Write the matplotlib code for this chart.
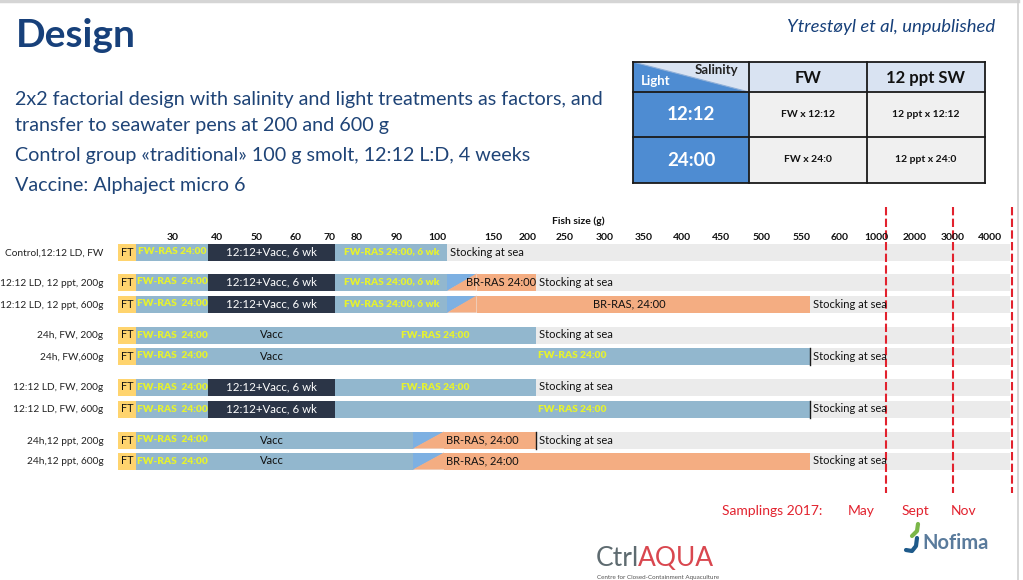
import numpy as np
import matplotlib
matplotlib.use('Agg')
import matplotlib.pyplot as plt
from matplotlib.patches import Rectangle, Polygon

plt.rcParams['font.family'] = ['Lato', 'DejaVu Sans']

# ---------------- data ----------------
row_labels = ["Control,12:12 LD, FW", "12:12 LD, 12 ppt, 200g", "12:12 LD, 12 ppt, 600g",
              "24h, FW, 200g", "24h, FW,600g", "12:12 LD, FW, 200g", "12:12 LD, FW, 600g",
              "24h,12 ppt, 200g", "24h,12 ppt, 600g"]
size_ticks = [30, 40, 50, 60, 70, 80, 90, 100, 150, 200, 250, 300, 350, 400, 450,
              500, 550, 600, 1000, 2000, 3000, 4000]

# stage boundaries, fish size in g
ft_range = (17.5, 21.7)
vacc_range = (38, 72)
ras6_end = 109          # end of FW-RAS 6 wk (control transfer ~100 g)
mix_a = (109, 135)      # FW -> brackish transition, 12:12 groups
mix_b = (94, 106)       # FW -> brackish transition, 24h groups
transfer_sizes = [109, 211, 561, 211, 561, 211, 561, 211, 561]
timeline_end = 4540
sampling_sizes = [1245, 3010, 4590]
sampling_labels = ["May", "Sept", "Nov"]

# segments per row: (kind, start, end, label)
rows = [
    [("ft", *ft_range, "FT"), ("fw_y", 21.7, 38, "FW-RAS 24:00"), ("dark", *vacc_range, "12:12+Vacc, 6 wk"),
     ("fw_y", 72, ras6_end, "FW-RAS 24:00, 6 wk")],
    [("ft", *ft_range, "FT"), ("fw_y", 21.7, 38, "FW-RAS  24:00"), ("dark", *vacc_range, "12:12+Vacc, 6 wk"),
     ("fw_y", 72, ras6_end, "FW-RAS 24:00, 6 wk"), ("mix", *mix_a, ""), ("br", 135, 211, "")],
    [("ft", *ft_range, "FT"), ("fw_y", 21.7, 38, "FW-RAS  24:00"), ("dark", *vacc_range, "12:12+Vacc, 6 wk"),
     ("fw_y", 72, ras6_end, "FW-RAS 24:00, 6 wk"), ("mix", *mix_a, ""), ("br", 135, 561, "")],
    [("ft", *ft_range, "FT"), ("fw_y", 21.7, 38, "FW-RAS  24:00"), ("fw_b", *vacc_range, "Vacc"),
     ("fw_y", 72, 211, "FW-RAS 24:00")],
    [("ft", *ft_range, "FT"), ("fw_y", 21.7, 38, "FW-RAS  24:00"), ("fw_b", *vacc_range, "Vacc"),
     ("fw_y", 72, 561, "FW-RAS 24:00")],
    [("ft", *ft_range, "FT"), ("fw_y", 21.7, 38, "FW-RAS  24:00"), ("dark", *vacc_range, "12:12+Vacc, 6 wk"),
     ("fw_y", 72, 211, "FW-RAS 24:00")],
    [("ft", *ft_range, "FT"), ("fw_y", 21.7, 38, "FW-RAS  24:00"), ("dark", *vacc_range, "12:12+Vacc, 6 wk"),
     ("fw_y", 72, 561, "FW-RAS 24:00")],
    [("ft", *ft_range, "FT"), ("fw_y", 21.7, 38, "FW-RAS  24:00"), ("fw_b", *vacc_range, "Vacc"),
     ("fw_b", 72, 94, ""), ("mix", *mix_b, ""), ("br", 106, 211, "")],
    [("ft", *ft_range, "FT"), ("fw_y", 21.7, 38, "FW-RAS  24:00"), ("fw_b", *vacc_range, "Vacc"),
     ("fw_b", 72, 94, ""), ("mix", *mix_b, ""), ("br", 106, 561, "")],
]
br_labels = {1: ("BR-RAS 24:00", 161), 2: ("BR-RAS, 24:00", 331),
             7: ("BR-RAS, 24:00", 140), 8: ("BR-RAS, 24:00", 140)}
end_marker_rows = [4, 6, 7]

table_cols = ["FW", "12 ppt SW"]
table_rows = ["12:12", "24:00"]
table_cells = [["FW x 12:12", "12 ppt x 12:12"], ["FW x 24:0", "12 ppt x 24:0"]]

# ---------------- layout / style ----------------
W, H = 1023, 580
row_y = [252, 282, 304, 335, 356, 387, 409, 440, 461]
bar_h = 17
knot_g = [10] + size_ticks + [5000]
knot_px = [84.7, 172.7, 216.7, 256.7, 295.7, 330, 356.7, 396.7, 437.3, 493.3, 527.3, 565, 605,
           644, 681.7, 720.7, 761.7, 801.7, 840, 876.7, 915, 952.7, 990, 1027.3]

def fwd(g):
    return np.interp(g, knot_g, knot_px)

def inv(p):
    return np.interp(p, knot_px, knot_g)

C = dict(ft='#FFD46E', fw_y='#92B7CE', fw_b='#92B7CE', dark='#2B3547', br='#F4AD82',
         mixblue='#7DB0E2', grey='#EBEBEB')
YEL = '#E6F22E'
NAVY = '#17407A'
RED = '#E2222E'

fig = plt.figure(figsize=(W / 100, H / 100), dpi=100)
deco = fig.add_axes([0, 0, 1, 1])
deco.set_xlim(0, W)
deco.set_ylim(H, 0)
deco.axis('off')

# slide frame
deco.plot([0, 1018], [1.2, 1.2], color='#D5D5D5', lw=2.5)
deco.plot([1018, 1018], [0, H], color='#D0D0D0', lw=1.2)

deco.text(16, 47, "Design", fontsize=28, fontweight='bold', color=NAVY, va='baseline')
deco.text(995, 27, "Ytrestøyl et al, unpublished", fontsize=13.3, style='italic', color=NAVY,
          ha='right', va='center')
body = ["2x2 factorial design with salinity and light treatments as factors, and",
        "transfer to seawater pens at 200 and 600 g",
        "Control group «traditional» 100 g smolt, 12:12 L:D, 4 weeks",
        "Vaccine: Alphaject micro 6"]
for t, y in zip(body, [99, 125, 156, 186]):
    deco.text(15, y, t, fontsize=14.2, color='#1F4477', va='center')

# ----- table -----
tx = [633, 749, 867, 985]
ty = [62, 92, 137, 183]
hdr = '#D9E3F2'
blue = '#4E8CD2'
deco.add_patch(Polygon([(tx[0], ty[0]), (tx[1], ty[0]), (tx[1], ty[1])], closed=True, fc=hdr, ec='none'))
deco.add_patch(Polygon([(tx[0], ty[0]), (tx[0], ty[1]), (tx[1], ty[1])], closed=True, fc=blue, ec='none'))
deco.plot([tx[0], tx[1]], [ty[0], ty[1]], color='#8FAFD8', lw=0.8)
deco.text(738, 70, "Salinity", fontsize=9.5, fontweight='bold', color='#222222', ha='right', va='center')
deco.text(641, 81, "Light", fontsize=9.5, fontweight='bold', color='white', ha='left', va='center')
for j, name in enumerate(table_cols):
    deco.add_patch(Rectangle((tx[j + 1], ty[0]), tx[j + 2] - tx[j + 1], ty[1] - ty[0], fc=hdr, ec='none'))
    deco.text((tx[j + 1] + tx[j + 2]) / 2, (ty[0] + ty[1]) / 2 + 1, name, fontsize=12,
              fontweight='bold', color='#111111', ha='center', va='center')
for i, name in enumerate(table_rows):
    deco.add_patch(Rectangle((tx[0], ty[i + 1]), tx[1] - tx[0], ty[i + 2] - ty[i + 1], fc=blue, ec='none'))
    deco.text((tx[0] + tx[1]) / 2, (ty[i + 1] + ty[i + 2]) / 2, name, fontsize=13.5,
              fontweight='bold', color='white', ha='center', va='center')
    for j in range(2):
        deco.add_patch(Rectangle((tx[j + 1], ty[i + 1]), tx[j + 2] - tx[j + 1], ty[i + 2] - ty[i + 1],
                                 fc='#F0F0F0', ec='none'))
        deco.text((tx[j + 1] + tx[j + 2]) / 2, (ty[i + 1] + ty[i + 2]) / 2, table_cells[i][j],
                  fontsize=7.5, fontweight='bold', color='#111111', ha='center', va='center')
for x in tx:
    deco.plot([x, x], [ty[0], ty[-1]], color='#1A1A1A', lw=1.3)
for y in ty:
    deco.plot([tx[0], tx[-1]], [y, y], color='#1A1A1A', lw=1.3)

# ----- Gantt chart -----
ax = fig.add_axes([106 / W, (H - 495) / H, (W - 106) / W, (495 - 205) / H])
ax.set_xscale('function', functions=(fwd, inv))
ax.set_xlim(inv(106), inv(W))
ax.set_ylim(495, 205)
for s in ax.spines.values():
    s.set_visible(False)
ax.set_xticks([])
ax.set_yticks(row_y)
ax.set_yticklabels(row_labels, fontsize=7.3, color='#222222')
ax.tick_params(axis='y', length=0, pad=2)
ax.patch.set_alpha(0)

for g in size_ticks:
    ax.text(g, 237, str(g), ha='center', va='center', fontsize=7.5, fontweight='bold', color='#111111')
deco.text(578, 221, "Fish size (g)", ha='center', va='center', fontsize=7.5, fontweight='bold',
          color='#111111')

def mid(a, b):
    return inv((fwd(a) + fwd(b)) / 2)

for r, (segs, y) in enumerate(zip(rows, row_y)):
    ax.barh(y, timeline_end - ft_range[0], left=ft_range[0], height=bar_h, color=C['grey'], lw=0)
    for kind, a, b, lab in segs:
        top, bot = y - bar_h / 2, y + bar_h / 2
        if kind == 'mix':
            ax.add_patch(Polygon([(a, bot), (a, top), (b, top)], closed=True, fc=C['mixblue'], ec='none'))
            ax.add_patch(Polygon([(a, bot), (b, top), (b, bot)], closed=True, fc=C['br'], ec='none'))
            continue
        ax.barh(y, b - a, left=a, height=bar_h, color=C[kind], lw=0)
        if not lab:
            continue
        if kind == 'ft':
            ax.text(mid(a, b), y, lab, ha='center', va='center', fontsize=7.8, color='#111111')
        elif kind == 'fw_y':
            ax.text(mid(a, b), y, lab, ha='center', va='center', fontsize=7.3, fontweight='heavy', color=YEL)
        elif kind == 'dark':
            ax.text(mid(a, b), y, lab, ha='center', va='center', fontsize=8.3, color='white')
        else:
            ax.text(mid(a, b), y, lab, ha='center', va='center', fontsize=8, color='#111111')
    if r in br_labels:
        lab, gx = br_labels[r]
        ax.text(gx, y, lab, ha='center', va='center', fontsize=8, color='#111111')
    end = transfer_sizes[r]
    ax.text(inv(fwd(end) + 3), y, "Stocking at sea", ha='left', va='center', fontsize=8, color='#111111')
    if r in end_marker_rows:
        ax.plot([end, end], [y - bar_h / 2, y + bar_h / 2], color='#1A1A1A', lw=1)

ax.vlines(sampling_sizes, 207, 493, colors=RED, lw=1.5, linestyles=(0, (4, 1.6)))

deco.text(722, 511, "Samplings 2017:", fontsize=10, color=RED, va='center', ha='left')
for lab, xp in zip(sampling_labels, [861, 915, 964]):
    deco.text(xp, 511, lab, fontsize=10, color=RED, va='center', ha='center')

# logos
deco.text(596, 558, "Ctrl", fontsize=19, color='#5E6B70', va='center', ha='left')
deco.text(638, 558, "AQUA", fontsize=19, color='#D9474F', va='center', ha='left')
deco.text(597, 577, "Centre for Closed-Containment Aquaculture", fontsize=4.5, color='#555555',
          va='center', ha='left')
deco.plot([912, 917, 918], [536, 531, 524], color='#7AB648', lw=3, solid_capstyle='round')
deco.plot([906, 912, 916, 917], [550, 551, 546, 538], color='#1E5A8A', lw=3, solid_capstyle='round')
deco.text(922, 543, "Nofima", fontsize=14.5, fontweight='bold', color='#5A7B9C', va='center', ha='left')

fig.savefig('out.png', dpi=100)
